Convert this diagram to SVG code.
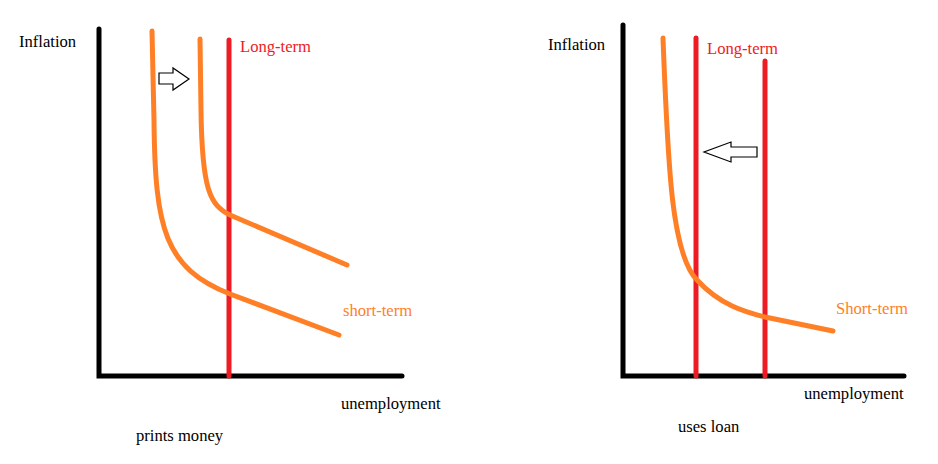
<svg xmlns="http://www.w3.org/2000/svg" width="938" height="464" viewBox="0 0 938 464">
<style>
.axis{stroke:#000;stroke-width:5;fill:none;stroke-linecap:round}
.lt{stroke:#ed1c24;stroke-width:5;fill:none;stroke-linecap:round}
.st{stroke:#ff7f27;stroke-width:5;fill:none;stroke-linecap:round;stroke-linejoin:round}
.arrow{fill:#fff;stroke:#000;stroke-width:1.2}
text{font-family:"Liberation Serif","Times New Roman",serif;font-size:16.6px}
.red{fill:#ed1c24}
.org{fill:#ff7f27}
</style>
<rect width="938" height="464" fill="#fff"/>
<g id="connectors">
<path class="axis" d="M99,29 L99,376 L402,376"/>
<path class="axis" d="M623,25 L623,376 L904,376"/>
</g>
<g id="left-chart">
<path class="lt" d="M229,40 L229,376"/>
<path class="st" d="M152,31 L154,120 C155,230 165,268 230,294 L339,335"/>
<path class="st" d="M200,39 L201,110 C202,190 210,205 230,215 L347,265"/>
<polygon class="arrow" points="159,73 173,73 173,68 189,79 173,90 173,84 159,84"/>
<text x="240" y="52" class="red">Long-term</text>
<text x="19" y="47">Inflation</text>
<text x="343" y="316" class="org">short-term</text>
<text x="341" y="409">unemployment</text>
<text x="136" y="441">prints money</text>
</g>
<g id="right-chart">
<path class="lt" d="M696,38 L696,376"/>
<path class="lt" d="M765,61 L765,376"/>
<path class="st" d="M663,38 C668,170 672,255 697,280 C720,305 745,312 765,317 L833,331"/>
<polygon class="arrow" points="757,147 731,147 731,142 704,152 731,162 731,157 757,157"/>
<text x="707" y="54" class="red">Long-term</text>
<text x="548" y="50">Inflation</text>
<text x="836" y="314" class="org">Short-term</text>
<text x="804" y="399">unemployment</text>
<text x="678" y="432">uses loan</text>
</g>
</svg>
